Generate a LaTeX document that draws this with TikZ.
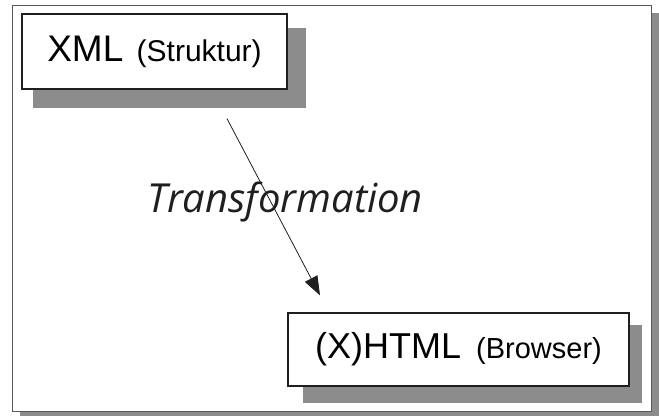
\documentclass[tikz,border=0pt]{standalone}
\usepackage{fontspec}
\setmainfont{Liberation Sans}
\newfontfamily\handfont{Open Sans}
\usetikzlibrary{arrows.meta, positioning, calc}
\definecolor{frameGray}{gray}{0.35}
\definecolor{shadowGray}{gray}{0.55}
\definecolor{textBlack}{gray}{0.12}

\begin{document}
\begin{tikzpicture}[x=1pt, y=-1pt,
    box/.style={draw=textBlack, line width=1.3pt, fill=white, inner sep=0pt},
    bigtext/.style={font=\fontsize{37}{40}\selectfont},
    smalltext/.style={font=\fontsize{30}{32}\selectfont},
    transf/.style={textBlack, line width=0.8pt, -{Triangle[length=19pt, width=14pt]}}]
    \useasboundingbox (0,0) rectangle (659,416);

    % Outer frame with shadow
    \fill[shadowGray] (20,13) rectangle (659,416);
    \draw[frameGray, fill=white, line width=1pt] (12,5) rectangle (651,411);

    % Box shadows
    \fill[shadowGray] (33,28) rectangle (306,108);
    \fill[shadowGray] (303,325) rectangle (642,403);

    % Boxes
    \node[box, bigtext, minimum width=265pt, minimum height=75pt] (xml) at (154.5,51.5)
        {XML\hspace{3pt} {\fontsize{30}{32}\selectfont(Struktur)}};
    \node[box, bigtext, minimum width=341pt, minimum height=73pt] (html) at (458.5,349.5)
        {\fontsize{36}{40}\selectfont(X)HTML\hspace{5pt} {\fontsize{29}{32}\selectfont(Browser)}};

    % Transformation arrow
    \draw[transf] ([xshift=72.5pt, yshift=-29pt]xml.south) -- ([xshift=-138.5pt, yshift=17pt]html.north);
    \node[font=\handfont\itshape\fontsize{40}{42}\selectfont, text=textBlack, anchor=base] (trans) at (285,212) {Transformation};
\end{tikzpicture}
\end{document}
